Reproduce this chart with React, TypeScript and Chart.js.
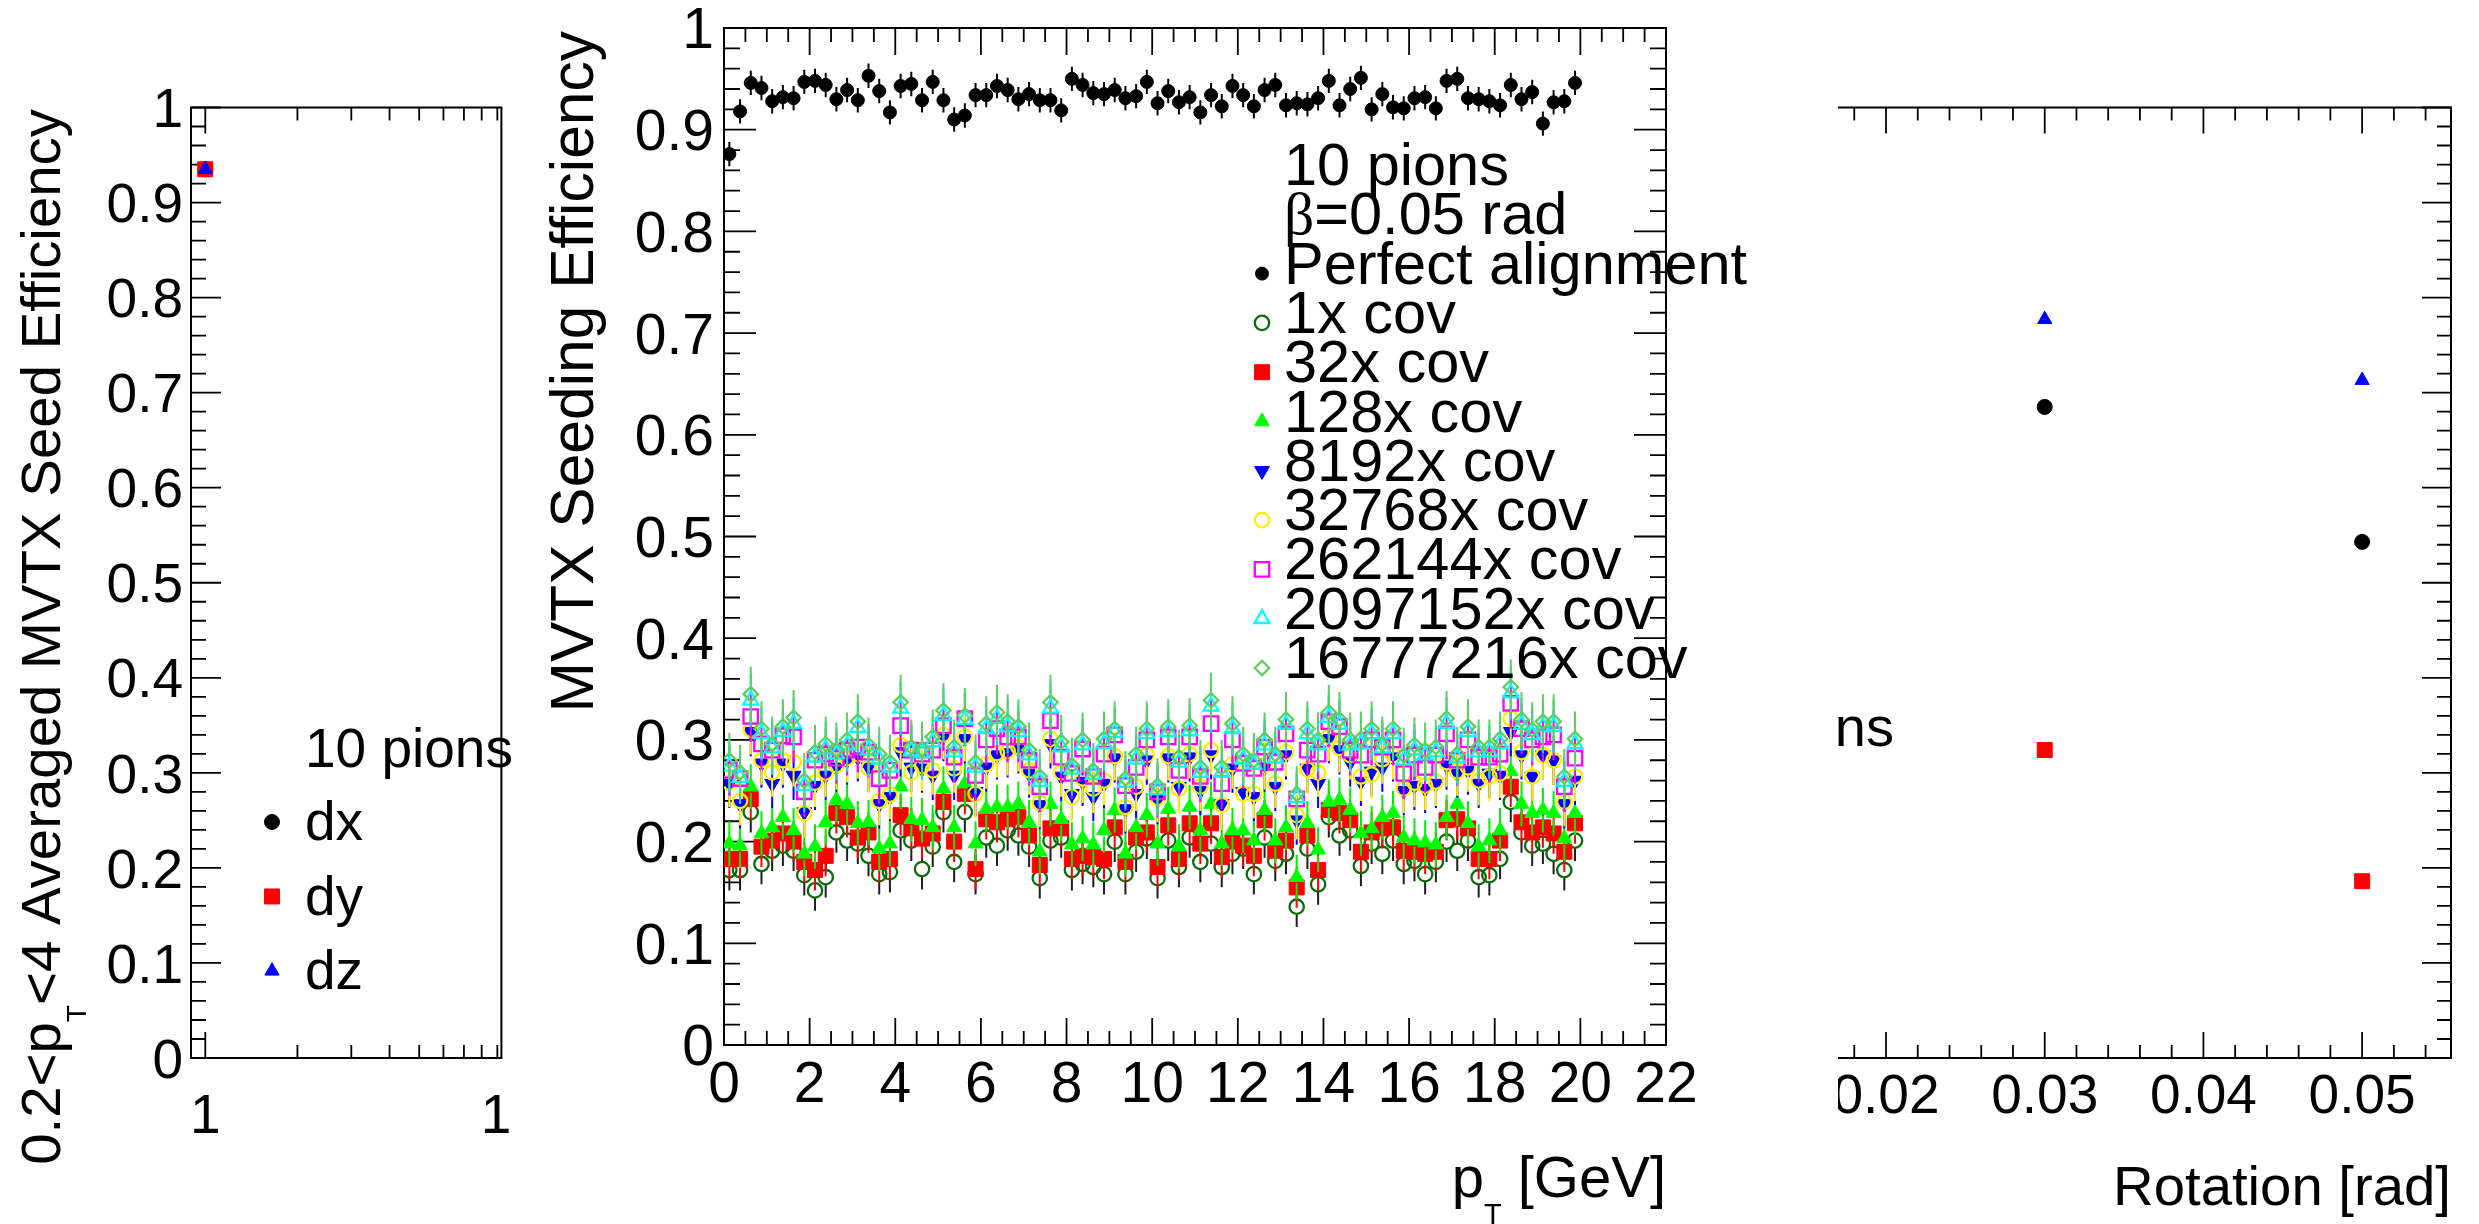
import React, { useEffect, useRef } from "react";
import { Chart, registerables } from "chart.js";
import { drawPoint } from "chart.js/helpers";

Chart.register(...registerables);

const FONT = '"Liberation Sans", Arial, Helvetica, sans-serif';

// ---------------- DATA ----------------
// middle panel: pT bin centres (GeV)
const ptBins = [
  0.125, 0.375, 0.625, 0.875, 1.125, 1.375, 1.625, 1.875, 2.125, 2.375,
  2.625, 2.875, 3.125, 3.375, 3.625, 3.875, 4.125, 4.375, 4.625, 4.875,
  5.125, 5.375, 5.625, 5.875, 6.125, 6.375, 6.625, 6.875, 7.125, 7.375,
  7.625, 7.875, 8.125, 8.375, 8.625, 8.875, 9.125, 9.375, 9.625, 9.875,
  10.125, 10.375, 10.625, 10.875, 11.125, 11.375, 11.625, 11.875, 12.125, 12.375,
  12.625, 12.875, 13.125, 13.375, 13.625, 13.875, 14.125, 14.375, 14.625, 14.875,
  15.125, 15.375, 15.625, 15.875, 16.125, 16.375, 16.625, 16.875, 17.125, 17.375,
  17.625, 17.875, 18.125, 18.375, 18.625, 18.875, 19.125, 19.375, 19.625, 19.875,
];

const effPerfect = [
  0.876, 0.918, 0.946, 0.941, 0.928, 0.932, 0.931, 0.947, 0.948, 0.944,
  0.930, 0.939, 0.929, 0.953, 0.938, 0.917, 0.943, 0.945, 0.929, 0.947,
  0.929, 0.910, 0.914, 0.934, 0.934, 0.943, 0.939, 0.930, 0.935, 0.929,
  0.929, 0.919, 0.950, 0.944, 0.936, 0.935, 0.939, 0.931, 0.933, 0.947,
  0.926, 0.938, 0.927, 0.932, 0.917, 0.934, 0.923, 0.943, 0.934, 0.923,
  0.939, 0.944, 0.924, 0.926, 0.925, 0.931, 0.948, 0.924, 0.940, 0.951,
  0.920, 0.935, 0.922, 0.921, 0.931, 0.932, 0.921, 0.948, 0.950, 0.931,
  0.930, 0.928, 0.924, 0.944, 0.930, 0.937, 0.906, 0.927, 0.928, 0.946,
];

const eff1x = [
  0.172, 0.172, 0.229, 0.178, 0.191, 0.196, 0.191, 0.167, 0.152, 0.165,
  0.209, 0.201, 0.198, 0.186, 0.168, 0.170, 0.211, 0.201, 0.173, 0.195,
  0.229, 0.180, 0.229, 0.168, 0.204, 0.196, 0.211, 0.206, 0.195, 0.164,
  0.201, 0.204, 0.172, 0.178, 0.175, 0.168, 0.200, 0.168, 0.190, 0.203,
  0.164, 0.201, 0.175, 0.204, 0.180, 0.198, 0.175, 0.188, 0.193, 0.168,
  0.204, 0.181, 0.188, 0.136, 0.193, 0.158, 0.224, 0.206, 0.211, 0.176,
  0.198, 0.188, 0.201, 0.178, 0.181, 0.168, 0.180, 0.200, 0.191, 0.201,
  0.165, 0.167, 0.183, 0.239, 0.209, 0.196, 0.198, 0.188, 0.172, 0.201,
];

const eff32x = [
  0.183, 0.183, 0.242, 0.195, 0.201, 0.208, 0.200, 0.180, 0.172, 0.186,
  0.228, 0.224, 0.204, 0.209, 0.180, 0.183, 0.226, 0.213, 0.203, 0.208,
  0.239, 0.200, 0.247, 0.173, 0.222, 0.219, 0.222, 0.224, 0.206, 0.177,
  0.213, 0.213, 0.183, 0.186, 0.185, 0.183, 0.214, 0.180, 0.204, 0.209,
  0.175, 0.216, 0.183, 0.218, 0.198, 0.218, 0.185, 0.200, 0.196, 0.186,
  0.221, 0.191, 0.201, 0.155, 0.206, 0.172, 0.231, 0.228, 0.221, 0.190,
  0.209, 0.213, 0.214, 0.191, 0.190, 0.188, 0.190, 0.221, 0.222, 0.213,
  0.183, 0.183, 0.201, 0.254, 0.219, 0.209, 0.214, 0.208, 0.190, 0.218,
];

const eff128x = [
  0.198, 0.196, 0.254, 0.208, 0.214, 0.224, 0.211, 0.188, 0.195, 0.219,
  0.241, 0.237, 0.218, 0.219, 0.193, 0.198, 0.254, 0.222, 0.221, 0.214,
  0.252, 0.214, 0.257, 0.198, 0.232, 0.234, 0.234, 0.237, 0.219, 0.190,
  0.237, 0.222, 0.197, 0.203, 0.197, 0.211, 0.231, 0.188, 0.214, 0.226,
  0.198, 0.232, 0.195, 0.234, 0.211, 0.237, 0.198, 0.211, 0.211, 0.201,
  0.231, 0.201, 0.214, 0.165, 0.218, 0.192, 0.239, 0.241, 0.231, 0.208,
  0.213, 0.224, 0.228, 0.204, 0.201, 0.199, 0.197, 0.224, 0.237, 0.218,
  0.195, 0.201, 0.211, 0.269, 0.237, 0.228, 0.231, 0.228, 0.203, 0.228,
];

const eff8192x = [
  0.257, 0.237, 0.308, 0.277, 0.257, 0.277, 0.265, 0.229, 0.255, 0.265,
  0.273, 0.280, 0.283, 0.273, 0.237, 0.244, 0.288, 0.273, 0.272, 0.265,
  0.303, 0.265, 0.301, 0.249, 0.273, 0.285, 0.287, 0.291, 0.267, 0.236,
  0.296, 0.264, 0.247, 0.259, 0.244, 0.257, 0.282, 0.232, 0.247, 0.280,
  0.241, 0.282, 0.254, 0.283, 0.250, 0.285, 0.237, 0.272, 0.249, 0.244,
  0.273, 0.254, 0.285, 0.221, 0.272, 0.257, 0.301, 0.290, 0.278, 0.259,
  0.269, 0.273, 0.283, 0.250, 0.255, 0.252, 0.257, 0.275, 0.267, 0.270,
  0.257, 0.267, 0.265, 0.308, 0.285, 0.264, 0.285, 0.280, 0.237, 0.260,
];

const eff32768x = [
  0.258, 0.240, 0.310, 0.280, 0.268, 0.280, 0.278, 0.228, 0.258, 0.268,
  0.275, 0.282, 0.286, 0.272, 0.240, 0.246, 0.295, 0.268, 0.274, 0.270,
  0.305, 0.272, 0.303, 0.247, 0.276, 0.287, 0.289, 0.293, 0.270, 0.238,
  0.301, 0.268, 0.244, 0.262, 0.252, 0.260, 0.284, 0.234, 0.254, 0.285,
  0.243, 0.284, 0.252, 0.286, 0.254, 0.290, 0.236, 0.276, 0.247, 0.247,
  0.275, 0.257, 0.288, 0.226, 0.271, 0.268, 0.303, 0.292, 0.285, 0.264,
  0.266, 0.281, 0.285, 0.252, 0.258, 0.255, 0.259, 0.278, 0.269, 0.273,
  0.260, 0.264, 0.267, 0.321, 0.288, 0.264, 0.285, 0.280, 0.239, 0.264,
];

const eff262144x = [
  0.270, 0.262, 0.323, 0.296, 0.290, 0.304, 0.303, 0.249, 0.280, 0.286,
  0.282, 0.290, 0.293, 0.288, 0.262, 0.270, 0.314, 0.290, 0.286, 0.290,
  0.314, 0.283, 0.321, 0.265, 0.300, 0.311, 0.303, 0.303, 0.280, 0.254,
  0.319, 0.283, 0.267, 0.291, 0.264, 0.286, 0.305, 0.255, 0.273, 0.300,
  0.249, 0.303, 0.270, 0.303, 0.264, 0.316, 0.257, 0.300, 0.277, 0.272,
  0.293, 0.278, 0.306, 0.242, 0.290, 0.286, 0.318, 0.313, 0.290, 0.285,
  0.300, 0.293, 0.300, 0.267, 0.285, 0.273, 0.285, 0.306, 0.280, 0.300,
  0.283, 0.283, 0.286, 0.336, 0.311, 0.300, 0.303, 0.305, 0.254, 0.282,
];

const eff2097152x = [
  0.274, 0.263, 0.339, 0.306, 0.292, 0.308, 0.316, 0.255, 0.283, 0.291,
  0.286, 0.295, 0.312, 0.290, 0.281, 0.273, 0.331, 0.289, 0.287, 0.298,
  0.324, 0.288, 0.320, 0.273, 0.311, 0.321, 0.313, 0.308, 0.285, 0.259,
  0.331, 0.293, 0.271, 0.295, 0.266, 0.296, 0.307, 0.258, 0.281, 0.306,
  0.251, 0.308, 0.278, 0.309, 0.268, 0.333, 0.268, 0.311, 0.281, 0.276,
  0.295, 0.282, 0.315, 0.243, 0.306, 0.295, 0.322, 0.315, 0.295, 0.296,
  0.306, 0.292, 0.306, 0.280, 0.290, 0.285, 0.288, 0.316, 0.282, 0.308,
  0.288, 0.288, 0.296, 0.346, 0.315, 0.305, 0.313, 0.313, 0.259, 0.296,
];

const eff16777216x = [
  0.280, 0.268, 0.345, 0.311, 0.296, 0.313, 0.322, 0.260, 0.288, 0.296,
  0.290, 0.300, 0.318, 0.295, 0.286, 0.278, 0.337, 0.293, 0.291, 0.303,
  0.329, 0.293, 0.324, 0.278, 0.316, 0.327, 0.318, 0.313, 0.290, 0.264,
  0.337, 0.298, 0.275, 0.300, 0.270, 0.301, 0.311, 0.262, 0.286, 0.311,
  0.255, 0.313, 0.283, 0.314, 0.273, 0.339, 0.273, 0.316, 0.286, 0.280,
  0.300, 0.286, 0.320, 0.247, 0.311, 0.300, 0.327, 0.320, 0.300, 0.301,
  0.311, 0.296, 0.311, 0.285, 0.295, 0.290, 0.293, 0.321, 0.286, 0.313,
  0.293, 0.293, 0.301, 0.352, 0.320, 0.310, 0.318, 0.318, 0.264, 0.301,
];

// half-length of vertical error bars per series (same order as legend)
const midErrHalf = [0.012, 0.02, 0.02, 0.022, 0.024, 0.024, 0.025, 0.026, 0.027];
const midLegendLabels = [
  "Perfect alignment", "1x cov", "32x cov", "128x cov", "8192x cov",
  "32768x cov", "262144x cov", "2097152x cov", "16777216x cov",
];

// left panel: 0.2<pT<4 averaged efficiency
const avgX = [1];
const avgDx = [0.935];
const avgDy = [0.935];
const avgDz = [0.935];

// right panel: vs rotation
const rotX = [0.03, 0.05];
const rotDx = [0.685, 0.543];
const rotDy = [0.324, 0.186];
const rotDz = [0.777, 0.713];
const alignLabels = ["dx", "dy", "dz"];

// tick labels
const effTicks = [0, 0.1, 0.2, 0.3, 0.4, 0.5, 0.6, 0.7, 0.8, 0.9, 1];
const effTickLabels = ["0", "0.1", "0.2", "0.3", "0.4", "0.5", "0.6", "0.7", "0.8", "0.9", "1"];
const ptTicks = [0, 2, 4, 6, 8, 10, 12, 14, 16, 18, 20, 22];
const ptTickLabels = ["0", "2", "4", "6", "8", "10", "12", "14", "16", "18", "20", "22"];
const logTicks = [1, 10];
const logTickLabels = ["1", "10"];
const logMinorTicks = [2, 3, 4, 5, 6, 7, 8, 9];
const rotTicks = [0, 0.01, 0.02, 0.03, 0.04, 0.05];
const rotTickLabels = ["0", "0.01", "0.02", "0.03", "0.04", "0.05"];

// ---------------- helpers ----------------
function range(a: number, b: number, step: number): number[] {
  const out: number[] = [];
  const n = Math.round((b - a) / step);
  for (let i = 0; i <= n; i++) out.push(+(a + i * step).toFixed(6));
  return out;
}

type Part = { t: string; sub?: boolean; family?: string };
function drawRich(ctx: CanvasRenderingContext2D, parts: Part[], x: number, y: number, size: number, align: "left" | "right") {
  ctx.textAlign = "left";
  ctx.textBaseline = "alphabetic";
  let w = 0;
  for (const p of parts) {
    ctx.font = `${p.sub ? size * 0.5 : size}px ${p.family ?? FONT}`;
    w += ctx.measureText(p.t).width;
  }
  let cx = align === "right" ? x - w : x;
  for (const p of parts) {
    ctx.font = `${p.sub ? size * 0.5 : size}px ${p.family ?? FONT}`;
    ctx.fillText(p.t, cx, p.sub ? y + size * 0.46 : y);
    cx += ctx.measureText(p.t).width;
  }
}

interface AxisCfg {
  xMajor: number[]; xMinor: number[]; xLabels: string[];
  yMajor: number[]; yMinor: number[]; yLabels: string[];
  xMajLen: number; xMinLen: number; yMajLen: number; yMinLen: number;
  ticksTop: boolean; ticksBottom: boolean; ticksLeft: boolean; ticksRight: boolean;
  font: number; yLabelGap: number; xLabelCenter: number;
}

function axesPlugin(cfg: AxisCfg) {
  return {
    id: "rootAxes",
    beforeDatasetsDraw(chart: any) {
      const ctx: CanvasRenderingContext2D = chart.ctx;
      const { left, right, top, bottom } = chart.chartArea;
      const xs = chart.scales.x, ys = chart.scales.y;
      ctx.save();
      ctx.strokeStyle = "#000";
      ctx.lineWidth = 2;
      ctx.strokeRect(left, top, right - left, bottom - top);
      ctx.lineWidth = 1.8;
      ctx.beginPath();
      const xt = (vals: number[], len: number) => {
        for (const v of vals) {
          const px = xs.getPixelForValue(v);
          if (px < left - 0.5 || px > right + 0.5) continue;
          if (cfg.ticksBottom) { ctx.moveTo(px, bottom); ctx.lineTo(px, bottom - len); }
          if (cfg.ticksTop) { ctx.moveTo(px, top); ctx.lineTo(px, top + len); }
        }
      };
      const yt = (vals: number[], len: number) => {
        for (const v of vals) {
          const py = ys.getPixelForValue(v);
          if (py < top - 0.5 || py > bottom + 0.5) continue;
          if (cfg.ticksLeft) { ctx.moveTo(left, py); ctx.lineTo(left + len, py); }
          if (cfg.ticksRight) { ctx.moveTo(right, py); ctx.lineTo(right - len, py); }
        }
      };
      xt(cfg.xMajor, cfg.xMajLen); xt(cfg.xMinor, cfg.xMinLen);
      yt(cfg.yMajor, cfg.yMajLen); yt(cfg.yMinor, cfg.yMinLen);
      ctx.stroke();
      ctx.fillStyle = "#000";
      ctx.font = `${cfg.font}px ${FONT}`;
      ctx.textBaseline = "alphabetic";
      ctx.textAlign = "center";
      cfg.xMajor.forEach((v, i) => {
        ctx.fillText(cfg.xLabels[i], xs.getPixelForValue(v), bottom + cfg.xLabelCenter + 0.358 * cfg.font);
      });
      ctx.textAlign = "right";
      cfg.yMajor.forEach((v, i) => {
        ctx.fillText(cfg.yLabels[i], left - cfg.yLabelGap, ys.getPixelForValue(v) + 0.358 * cfg.font);
      });
      ctx.restore();
    },
  };
}

const errorBarPlugin = {
  id: "errBars",
  beforeDatasetDraw(chart: any, args: any) {
    const ds = chart.data.datasets[args.index];
    if (!ds.errHalf) return;
    const ctx: CanvasRenderingContext2D = chart.ctx;
    const ys = chart.scales.y;
    const { left, right, top, bottom } = chart.chartArea;
    ctx.save();
    ctx.beginPath();
    ctx.rect(left, top, right - left, bottom - top);
    ctx.clip();
    ctx.strokeStyle = ds.errColor;
    ctx.lineWidth = 2;
    ctx.beginPath();
    args.meta.data.forEach((pt: any, i: number) => {
      const v = ds.data[i].y;
      const yTop = ys.getPixelForValue(v + ds.errHalf);
      const yBot = ys.getPixelForValue(v - ds.errHalf);
      const g = ds.errGap;
      if (pt.y - g > yTop) { ctx.moveTo(pt.x, yTop); ctx.lineTo(pt.x, pt.y - g); }
      if (pt.y + g < yBot) { ctx.moveTo(pt.x, pt.y + g); ctx.lineTo(pt.x, yBot); }
    });
    ctx.stroke();
    ctx.restore();
  },
};

interface MarkerStyle { style: string; r: number; color: string; open: boolean; rot: number; errColor: string; gap: number; lw?: number }

// marker styles (ROOT-like)
const midStyles: MarkerStyle[] = [
  { style: "circle", r: 6.5, color: "#000000", open: false, rot: 0, errColor: "#000000", gap: 6 },
  { style: "circle", r: 7.2, color: "#0b6b0b", open: true, rot: 0, errColor: "#1e1e1e", gap: 7, lw: 2.3 },
  { style: "rect", r: 10.6, color: "#ff0000", open: false, rot: 0, errColor: "#ff0000", gap: 7 },
  { style: "triangle", r: 8.6, color: "#00ff00", open: false, rot: 0, errColor: "#00ee00", gap: 6 },
  { style: "triangle", r: 8.6, color: "#0000ff", open: false, rot: 180, errColor: "#0000ff", gap: 6 },
  { style: "circle", r: 7.2, color: "#ffee00", open: true, rot: 0, errColor: "#ffee00", gap: 7, lw: 2.3 },
  { style: "rect", r: 10.2, color: "#ff00ff", open: true, rot: 0, errColor: "#ff00ff", gap: 7, lw: 2.3 },
  { style: "triangle", r: 8.6, color: "#00ffff", open: true, rot: 0, errColor: "#00e5e5", gap: 6, lw: 2.3 },
  { style: "rectRot", r: 7.2, color: "#5ccf5c", open: true, rot: 0, errColor: "#5ccf5c", gap: 7, lw: 2.3 },
];

function pointDataset(xs: number[], ys: number[], st: MarkerStyle, order: number, err?: number) {
  return {
    data: xs.map((x, i) => ({ x, y: ys[i] })),
    showLine: false,
    pointStyle: st.style,
    pointRadius: st.r,
    pointHoverRadius: st.r,
    pointRotation: st.rot,
    pointBackgroundColor: st.open ? "rgba(0,0,0,0)" : st.color,
    pointBorderColor: st.color,
    pointBorderWidth: st.open ? (st.lw ?? 2) : 1,
    order,
    errHalf: err,
    errColor: st.errColor,
    errGap: st.gap,
  } as any;
}

function legendMarker(ctx: CanvasRenderingContext2D, st: MarkerStyle, x: number, y: number) {
  ctx.save();
  ctx.fillStyle = st.open ? "rgba(0,0,0,0)" : st.color;
  ctx.strokeStyle = st.color;
  const bw = st.open ? (st.lw ?? 2) : 1;
  ctx.lineWidth = bw;
  drawPoint(ctx, { pointStyle: st.style as any, rotation: st.rot, radius: st.r, borderWidth: bw } as any, x, y);
  ctx.restore();
}

const alignStyles: MarkerStyle[] = [
  { style: "circle", r: 7.5, color: "#000000", open: false, rot: 0, errColor: "#000", gap: 0 },
  { style: "rect", r: 10.6, color: "#ff0000", open: false, rot: 0, errColor: "#f00", gap: 0 },
  { style: "triangle", r: 8.2, color: "#0000ff", open: false, rot: 0, errColor: "#00f", gap: 0 },
];

const baseOpts = {
  responsive: false,
  maintainAspectRatio: false,
  animation: false as const,
  devicePixelRatio: 1,
  events: [] as any[],
  plugins: { legend: { display: false }, tooltip: { enabled: false }, title: { display: false } },
};

// ---------------- charts ----------------
function makeLeft(canvas: HTMLCanvasElement) {
  const axes = axesPlugin({
    xMajor: logTicks, xMinor: logMinorTicks, xLabels: logTickLabels,
    yMajor: effTicks, yMinor: range(0, 1, 0.02), yLabels: effTickLabels,
    xMajLen: 26, xMinLen: 13, yMajLen: 30, yMinLen: 15,
    ticksTop: true, ticksBottom: true, ticksLeft: true, ticksRight: false,
    font: 55, yLabelGap: 8, xLabelCenter: 55,
  });
  const deco = {
    id: "leftDeco",
    afterDraw(chart: any) {
      const ctx: CanvasRenderingContext2D = chart.ctx;
      ctx.save();
      ctx.fillStyle = "#000";
      ctx.translate(60, 109);
      ctx.rotate(-Math.PI / 2);
      drawRich(ctx, [{ t: "0.2<p" }, { t: "T", sub: true }, { t: "<4 Averaged MVTX Seed Efficiency" }], 0, 0, 56.4, "right");
      ctx.restore();
      ctx.save();
      ctx.fillStyle = "#000";
      ctx.font = `55px ${FONT}`;
      ctx.textAlign = "left";
      ctx.fillText("10 pions", 305, 767);
      alignLabels.forEach((lab, i) => {
        const base = 840 + 74.5 * i;
        ctx.fillStyle = "#000";
        ctx.font = `55px ${FONT}`;
        ctx.fillText(lab, 305, base);
        legendMarker(ctx, alignStyles[i], 272, base - 18);
      });
      ctx.restore();
    },
  };
  return new Chart(canvas, {
    type: "scatter",
    data: {
      datasets: [
        pointDataset(avgX, avgDx, alignStyles[0], 0),
        pointDataset(avgX, avgDy, alignStyles[1], -1),
        pointDataset(avgX, avgDz, alignStyles[2], -2),
      ],
    },
    options: {
      ...baseOpts,
      layout: { padding: { left: 191, right: 2, top: 107.5, bottom: 166 } },
      scales: {
        x: { type: "logarithmic", min: 0.898, max: 9.28, display: false },
        y: { type: "linear", min: 0, max: 1, display: false },
      },
    } as any,
    plugins: [axes, deco],
  });
}

function makeMid(canvas: HTMLCanvasElement) {
  const series = [effPerfect, eff1x, eff32x, eff128x, eff8192x, eff32768x, eff262144x, eff2097152x, eff16777216x];
  const axes = axesPlugin({
    xMajor: ptTicks, xMinor: range(0, 22, 0.5), xLabels: ptTickLabels,
    yMajor: effTicks, yMinor: range(0, 1, 0.02), yLabels: effTickLabels,
    xMajLen: 27, xMinLen: 14, yMajLen: 32, yMinLen: 16,
    ticksTop: true, ticksBottom: true, ticksLeft: true, ticksRight: true,
    font: 57, yLabelGap: 10, xLabelCenter: 37,
  });
  const deco = {
    id: "midDeco",
    afterDraw(chart: any) {
      const ctx: CanvasRenderingContext2D = chart.ctx;
      ctx.save();
      ctx.fillStyle = "#000";
      ctx.translate(80, 31);
      ctx.rotate(-Math.PI / 2);
      drawRich(ctx, [{ t: "MVTX Seeding Efficiency" }], 0, 0, 60.5, "right");
      ctx.restore();
      ctx.save();
      ctx.fillStyle = "#000";
      drawRich(ctx, [{ t: "p" }, { t: "T", sub: true }, { t: " [GeV]" }], 1153, 1197, 58, "right");
      // legend
      const tx = 771, mx = 749, b0 = 185, dy = 49.3, fs = 59.5;
      drawRich(ctx, [{ t: "10 pions" }], tx, b0, fs, "left");
      drawRich(ctx, [{ t: "β", family: '"Liberation Serif", "DejaVu Serif", serif' }, { t: "=0.05 rad" }], tx, b0 + dy, fs, "left");
      midLegendLabels.forEach((lab, i) => {
        const base = b0 + dy * (i + 2);
        ctx.fillStyle = "#000";
        drawRich(ctx, [{ t: lab }], tx, base, fs, "left");
        legendMarker(ctx, midStyles[i], mx, base - 10);
      });
      ctx.restore();
    },
  };
  return new Chart(canvas, {
    type: "scatter",
    data: {
      datasets: series.map((vals, i) => pointDataset(ptBins, vals, midStyles[i], -i, midErrHalf[i])),
    },
    options: {
      ...baseOpts,
      layout: { padding: { left: 211, right: 172, top: 28, bottom: 179 } },
      scales: {
        x: { type: "linear", min: 0, max: 22, display: false },
        y: { type: "linear", min: 0, max: 1, display: false },
      },
    } as any,
    plugins: [axes, errorBarPlugin, deco],
  });
}

function makeRight(canvas: HTMLCanvasElement) {
  const axes = axesPlugin({
    xMajor: rotTicks, xMinor: range(0, 0.056, 0.002), xLabels: rotTickLabels,
    yMajor: effTicks, yMinor: range(0, 1, 0.02), yLabels: effTickLabels,
    xMajLen: 26, xMinLen: 13, yMajLen: 29, yMinLen: 14,
    ticksTop: true, ticksBottom: true, ticksLeft: true, ticksRight: true,
    font: 55, yLabelGap: 8, xLabelCenter: 35,
  });
  const deco = {
    id: "rightDeco",
    afterDraw(chart: any) {
      const ctx: CanvasRenderingContext2D = chart.ctx;
      ctx.save();
      ctx.fillStyle = "#000";
      drawRich(ctx, [{ t: "Rotation [rad]" }], 951, 1205, 56.3, "right");
      drawRich(ctx, [{ t: "10 pions" }], 394, 746, 56, "right");
      alignLabels.forEach((lab, i) => {
        const base = 820 + 74.5 * i;
        ctx.fillStyle = "#000";
        drawRich(ctx, [{ t: lab }], 186, base, 56, "left");
        legendMarker(ctx, alignStyles[i], 153, base - 18);
      });
      ctx.restore();
    },
  };
  return new Chart(canvas, {
    type: "scatter",
    data: {
      datasets: [
        pointDataset(rotX, rotDx, alignStyles[0], 0),
        pointDataset(rotX, rotDy, alignStyles[1], -1),
        pointDataset(rotX, rotDz, alignStyles[2], -2),
      ],
    },
    options: {
      ...baseOpts,
      layout: { padding: { left: 68.6, right: 28, top: 107.5, bottom: 166 } },
      scales: {
        x: { type: "linear", min: 0, max: 0.0556, display: false },
        y: { type: "linear", min: 0, max: 1, display: false },
      },
    } as any,
    plugins: [axes, deco],
  });
}

export default function App() {
  const leftRef = useRef<HTMLCanvasElement>(null);
  const midRef = useRef<HTMLCanvasElement>(null);
  const rightRef = useRef<HTMLCanvasElement>(null);

  useEffect(() => {
    const charts = [makeLeft(leftRef.current!), makeRight(rightRef.current!), makeMid(midRef.current!)];
    return () => charts.forEach((c) => c.destroy());
  }, []);

  return (
    <div style={{ position: "fixed", left: 0, top: 0, width: 2479, height: 1224, background: "#fff", overflow: "hidden" }}>
      <canvas ref={leftRef} width={513} height={1224}
        style={{ position: "absolute", left: 0, top: 0, width: 513, height: 1224, zIndex: 1 }} />
      <canvas ref={rightRef} width={979} height={1224}
        style={{ position: "absolute", left: 1500, top: 0, width: 979, height: 1224, zIndex: 1 }} />
      <canvas ref={midRef} width={1325} height={1224}
        style={{ position: "absolute", left: 513, top: 0, width: 1325, height: 1224, zIndex: 2, background: "#fff" }} />
    </div>
  );
}
